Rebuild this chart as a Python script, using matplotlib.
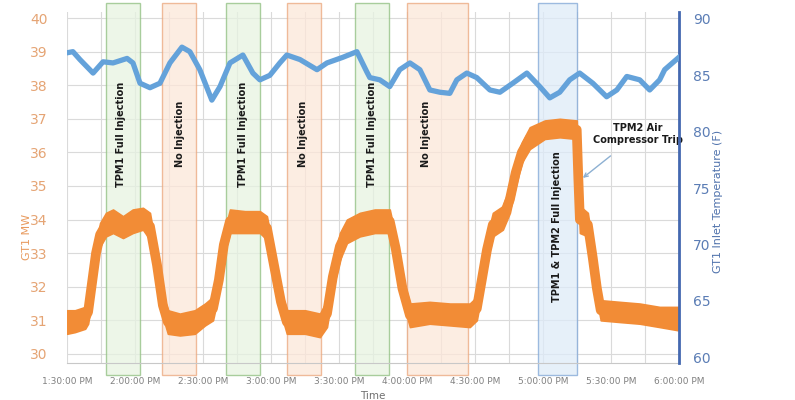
import datetime as dt

import matplotlib.pyplot as plt
import matplotlib.dates as mdates
from matplotlib.ticker import FuncFormatter
from matplotlib.transforms import blended_transform_factory
from matplotlib.patches import Rectangle

# minutes after 1:30 PM
mw_min = [0, 3.5, 8, 9.3, 11, 12.8, 14.6, 17.2, 20.3, 24.7, 29, 33.5, 36.6, 39.7, 42.3, 44.5,
          49.8, 56.4, 60.9, 64.4, 67, 69.2, 71.9, 78.5, 85.1, 88.2, 91.3, 94.4, 97, 105,
          111.6, 114.7, 117.3, 120.4, 123.5, 129.2, 135.8, 142.4, 145, 148, 151.3, 160, 169,
          177.7, 180.8, 183, 185.3, 187.9, 192.3, 195.4, 198, 200.7, 204.2, 210.8, 217.4,
          224.9, 225.6, 226.3, 229.8, 232, 233.8, 235.5, 243.9, 252.7, 261.5, 270]
mw_hi = [31.3, 31.3, 31.4, 31.6, 32.6, 33.3, 33.9, 34.2, 34.3, 34.1, 34.3, 34.35, 34.2, 33.0, 31.8, 31.3,
         31.2, 31.3, 31.5, 31.7, 32.6, 33.6, 34.3, 34.25, 34.25, 34.1, 33.0, 31.9, 31.3, 31.3,
         31.2, 31.6, 32.7, 33.6, 34.0, 34.2, 34.3, 34.3, 33.5, 32.3, 31.5, 31.55, 31.5,
         31.5, 31.7, 32.6, 33.5, 34.2, 34.4, 35.0, 35.8, 36.3, 36.75, 36.95, 37.0,
         36.95, 35.9, 34.4, 34.2, 33.2, 32.3, 31.6, 31.55, 31.5, 31.4, 31.4]
mw_lo = [30.6, 30.65, 30.75, 30.9, 31.6, 32.7, 33.2, 33.5, 33.6, 33.45, 33.6, 33.7, 33.4, 32.3, 31.1, 30.6,
         30.55, 30.6, 30.85, 31.0, 31.8, 32.9, 33.6, 33.6, 33.6, 33.4, 32.3, 31.2, 30.6, 30.6,
         30.5, 30.8, 31.9, 32.8, 33.3, 33.5, 33.6, 33.6, 32.8, 31.6, 30.8, 30.9, 30.85,
         30.8, 31.0, 31.8, 32.7, 33.5, 33.7, 34.2, 35.0, 35.7, 36.1, 36.4, 36.45,
         36.4, 34.6, 33.6, 33.5, 32.5, 31.6, 31.0, 30.95, 30.9, 30.8, 30.7]

temp_min = [0, 2.6, 5.7, 11.5, 15.9, 20.3, 26.5, 29.1, 32.2, 36.6, 41, 45.4, 50.7, 54.2, 58.6,
            63.9, 67.5, 71.9, 77.6, 82, 85.1, 89.5, 93.9, 97, 102.8, 110.3, 114.7, 121.7, 127.9,
            132.3, 133.6, 138, 142.4, 146.8, 151.3, 155.7, 160.1, 164.5, 168.9, 172, 176.4,
            180.8, 186.6, 191, 196.7, 202.9, 208.6, 213, 217.4, 221.8, 226.2, 232, 238.1,
            242.6, 247, 252.7, 257.1, 261.5, 263.7, 270]
temp_f = [87.0, 87.1, 86.4, 85.2, 86.2, 86.1, 86.5, 86.1, 84.3, 83.9, 84.3, 86.1, 87.5, 87.1, 85.5,
          82.8, 84.0, 86.1, 86.8, 85.2, 84.6, 85.0, 86.1, 86.8, 86.4, 85.5, 86.1, 86.6, 87.1,
          85.3, 84.8, 84.6, 84.0, 85.5, 86.1, 85.5, 83.7, 83.5, 83.4, 84.6, 85.2,
          84.8, 83.7, 83.5, 84.3, 85.2, 84.0, 83.0, 83.5, 84.6, 85.2, 84.3, 83.1,
          83.7, 84.9, 84.6, 83.7, 84.6, 85.5, 86.6]

# shaded periods
bands = [("13:47", "14:02", "TPM1 Full Injection", "green"),
         ("14:12", "14:27", "No Injection", "orange"),
         ("14:40", "14:55", "TPM1 Full Injection", "green"),
         ("15:07", "15:22", "No Injection", "orange"),
         ("15:37", "15:52", "TPM1 Full Injection", "green"),
         ("16:00", "16:27", "No Injection", "orange"),
         ("16:58", "17:15", "TPM1 & TPM2 Full Injection", "blue")]

band_style = {"green": ("#E7F3E1", "#8FBF7F"),
              "orange": ("#FCE7D9", "#EBA77C"),
              "blue": ("#DEEBF8", "#7FA6D6")}

start = dt.datetime(2020, 1, 1, 13, 30)


def to_time(minutes):
    return [start + dt.timedelta(minutes=m) for m in minutes]


def hhmm(s):
    h, m = s.split(":")
    return dt.datetime(2020, 1, 1, int(h), int(m))


fig = plt.figure(figsize=(7.95, 4.0), dpi=100)
ax = fig.add_axes([0.0843, 0.0925, 0.7697, 0.8775])
ax2 = ax.twinx()

orange = "#F28C36"
blue = "#64A2DA"

trans = blended_transform_factory(ax.transData, ax.transAxes)
for b0, b1, label, kind in bands:
    x0 = mdates.date2num(hhmm(b0))
    x1 = mdates.date2num(hhmm(b1))
    face, edge = band_style[kind]
    r = Rectangle((x0, -0.034), x1 - x0, 1.06, transform=trans, facecolor=face,
                  edgecolor=edge, lw=1.0, alpha=0.75, clip_on=False, zorder=1)
    ax.add_patch(r)

mw_t = to_time(mw_min)
ax.fill_between(mw_t, mw_lo, mw_hi, color=orange, lw=1.2, edgecolor=orange, zorder=3)
mw_mid = [(a + b) / 2 for a, b in zip(mw_lo, mw_hi)]
ax.plot(mw_t, mw_mid, color=orange, lw=7, solid_capstyle="butt", zorder=3)

# band labels
lab_kw = dict(rotation=90, ha="center", va="center", fontsize=7, fontweight="bold",
              color="#1A1A1A", zorder=5)
ax.text(hhmm("13:54"), 36.55, "TPM1 Full Injection", **lab_kw)
ax.text(hhmm("14:19") + dt.timedelta(seconds=40), 36.55, "No Injection", **lab_kw)
ax.text(hhmm("14:47") + dt.timedelta(seconds=40), 36.55, "TPM1 Full Injection", **lab_kw)
ax.text(hhmm("15:14"), 36.55, "No Injection", **lab_kw)
ax.text(hhmm("15:44") + dt.timedelta(seconds=30), 36.55, "TPM1 Full Injection", **lab_kw)
ax.text(hhmm("16:08") + dt.timedelta(seconds=20), 36.55, "No Injection", **lab_kw)
ax.text(hhmm("17:06"), 33.78, "TPM1 & TPM2 Full Injection", **lab_kw)

ax.annotate("TPM2 Air\nCompressor Trip", xy=(start + dt.timedelta(minutes=227.6), 35.24),
            xytext=(start + dt.timedelta(minutes=252), 36.55), ha="center", va="center",
            fontsize=7, fontweight="bold", color="#1A1A1A", linespacing=1.35, zorder=6,
            arrowprops=dict(arrowstyle="->", color="#8DB0D2", lw=1.0,
                            shrinkA=9, shrinkB=0))

ax2.plot(to_time(temp_min), temp_f, color=blue, lw=3.8, solid_joinstyle="round", zorder=4)

ax.set_xlim(start, start + dt.timedelta(minutes=270))
ax.set_ylim(29.73, 40.18)
ax2.set_ylim(59.47, 90.62)

ax.xaxis.set_major_locator(mdates.MinuteLocator(byminute=[0, 30]))
ax.xaxis.set_minor_locator(mdates.MinuteLocator(byminute=[15, 45]))
ax.xaxis.set_major_formatter(FuncFormatter(
    lambda v, p: mdates.num2date(v).strftime("%I:%M:%S %p").lstrip("0")))
ax.set_yticks(range(30, 41))
ax2.set_yticks(range(60, 91, 5))

ax.grid(True, which="both", color="#DADADA", lw=0.8, zorder=0)
ax.set_axisbelow(True)

ax.tick_params(axis="x", which="both", length=0, pad=10, labelsize=6.5, labelcolor="#808080")
ax.tick_params(axis="y", length=0, pad=14, labelsize=10, labelcolor="#E5A474")
ax2.tick_params(axis="y", length=0, pad=10, labelsize=10, labelcolor="#5B7DB5")

for s in ["top", "left"]:
    ax.spines[s].set_visible(False)
    ax2.spines[s].set_visible(False)
ax.spines["bottom"].set_color("#C8C8C8")
ax2.spines["bottom"].set_visible(False)
ax.spines["right"].set_visible(False)
ax2.spines["right"].set_color("#4468B0")
ax2.spines["right"].set_linewidth(2)

ax.set_xlabel("Time", fontsize=7.5, color="#707070", labelpad=4)
ax.set_ylabel("GT1 MW", fontsize=8, color="#E89A5E")
ax.yaxis.set_label_coords(-0.058, 0.36)
ax2.set_ylabel("GT1 Inlet Temperature (F)", fontsize=8, color="#4F72AC")
ax2.yaxis.set_label_coords(1.055, 0.46)

fig.savefig("out.png", dpi=100)
